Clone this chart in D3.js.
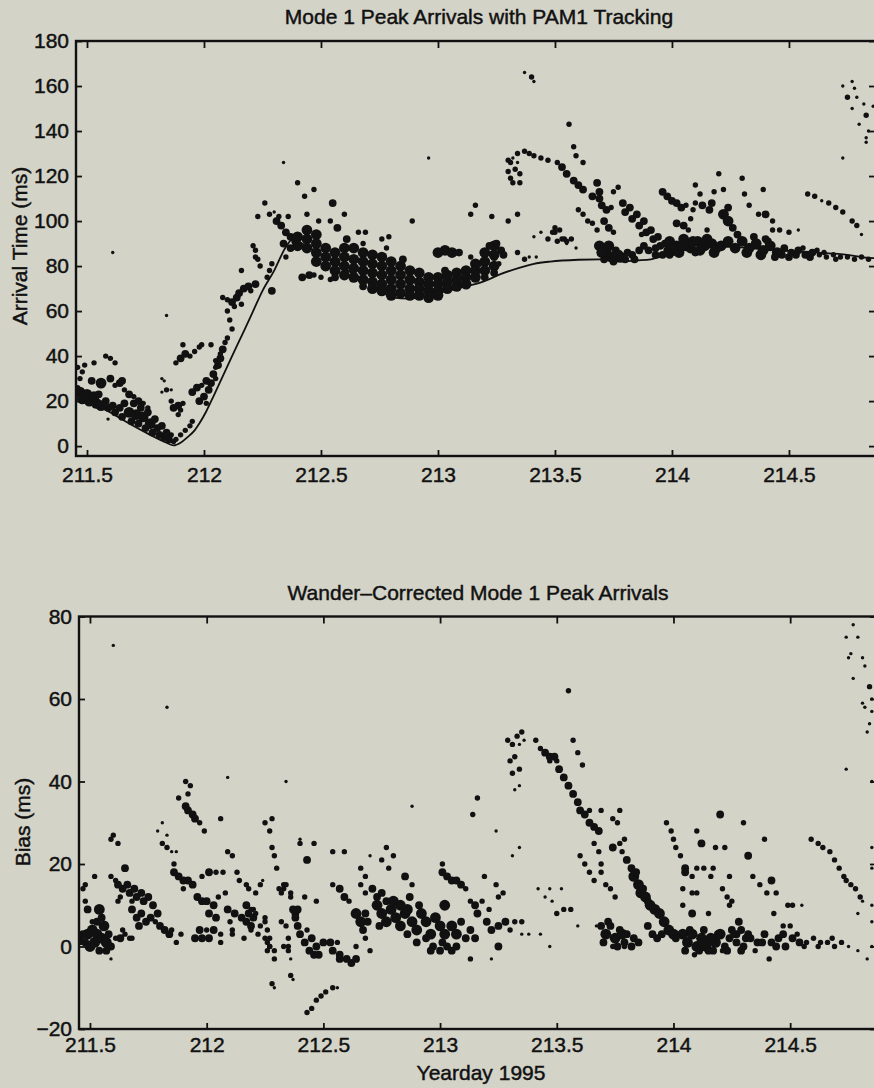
<!DOCTYPE html>
<html>
<head>
<meta charset="utf-8">
<script src="https://cdn.jsdelivr.net/npm/d3@7"></script>
<style>
html,body{margin:0;padding:0;background:#d3d3c8;}
svg{display:block;}
</style>
</head>
<body>
<svg id="chart" width="874" height="1088"></svg>
<script>
// ---------- DATA ----------
const xTickValues = [211.5, 212, 212.5, 213, 213.5, 214, 214.5];
const xTickLabels = ["211.5", "212", "212.5", "213", "213.5", "214", "214.5"];
const topYTicks = [0, 20, 40, 60, 80, 100, 120, 140, 160, 180];
const bottomYTicks = [-20, 0, 20, 40, 60, 80];

const topTitle = "Mode 1 Peak Arrivals with PAM1 Tracking";
const bottomTitle = "Wander\u2013Corrected Mode 1 Peak Arrivals";
const topYLabel = "Arrival Time (ms)";
const bottomYLabel = "Bias (ms)";
const xLabel = "Yearday 1995";

// PAM1 tracking curve [yearday, ms]
const pam1Track = [
[211.453,23],[211.47,22],[211.53,18.5],[211.6,15],[211.68,10],[211.77,5],[211.84,1.5],[211.87,0.3],
[211.9,1.5],[211.93,4],[211.96,7],[211.98,10],[212.01,15.5],[212.04,22],[212.08,31],[212.12,40],
[212.17,51],[212.21,60],[212.25,69],[212.3,78],[212.35,88.5],[212.38,92],[212.42,90],[212.5,85],
[212.6,79],[212.66,75],[212.72,72],[212.81,66],[212.87,65.5],[212.93,66.5],[213.0,68],[213.1,70.5],
[213.19,73],[213.27,76.5],[213.34,79],[213.41,81],[213.48,82],[213.6,82.8],[213.69,83],[213.77,82],
[213.85,82.5],[213.91,83],[213.98,85],[214.05,87],[214.12,88],[214.19,88.5],[214.26,88.5],[214.33,88],
[214.45,87],[214.62,86],[214.75,85],[214.83,83.7],[214.872,83.5]
];

// Mode 1 peak arrivals [yearday, arrival ms, amplitude class 1-4]
const topPeaks = [
[211.47,24,4],[211.48,21,4],[211.5,23,4],[211.51,20,4],[211.53,22,4],[211.54,19,4],[211.55,23,3],[211.56,18,4],
[211.58,20,3],[211.59,17,3],[211.46,26,2],[211.47,30,2],[211.46,35,2],[211.48,33,2],[211.49,36,2],[211.53,37,2],
[211.52,29,3],[211.56,28,4],[211.6,17,2],[211.59,12,1],[211.61,86,1],
[211.61,18,3],[211.62,15,3],[211.64,17,3],[211.65,13,3],[211.66,19,3],[211.68,15,4],[211.69,11,3],[211.7,19,3],
[211.71,14,4],[211.72,10,3],[211.73,17,3],[211.74,13,4],[211.75,8,3],[211.76,15,3],[211.77,10,4],[211.78,6,3],
[211.79,12,3],[211.8,8,3],[211.81,5,3],[211.82,9,3],[211.83,4,3],[211.84,6,3],[211.85,3,3],[211.86,5,2],[211.87,2,2],
[211.6,30,3],[211.62,27,2],[211.64,28,3],[211.65,29,3],[211.66,25,2],[211.68,23,3],[211.7,22,2],[211.72,20,3],
[211.74,19,2],[211.76,17,2],[211.58,40,2],[211.6,39,2],[211.62,37,2],
[211.84,58,1],[211.82,30,1],[211.83,29,1],[211.82,24,1],[211.84,25,2],[211.86,25,1],
[211.86,20,2],[211.87,17,3],[211.89,18,3],[211.9,16,2],[211.91,19,2],[211.89,14,2],
[211.88,3,2],[211.9,5,2],[211.92,7,2],[211.94,9,2],[211.95,11,2],
[211.88,37,2],[211.9,39,3],[211.92,41,3],[211.94,40,2],[211.96,42,2],[211.91,45,2],[211.98,44,2],[211.99,45,2],
[212.03,45,2],[212.05,38,2],
[211.95,24,3],[211.97,26,3],[211.99,27,2],[212.01,29,3],[212.02,25,3],
[211.98,20,3],[212.0,22,3],[212.01,19,2],[212.03,28,3],[212.04,32,3],[212.05,30,2],[212.06,36,3],[212.07,39,3],
[212.08,43,3],[212.09,46,2],[212.1,48,2],[212.05,35,2],[212.07,41,2],
[212.12,64,3],[212.14,66,3],[212.15,68,3],[212.17,70,3],[212.19,71,3],[212.2,69,2],[212.22,72,3],[212.13,62,2],
[212.16,63,2],[212.1,65,2],[212.08,66,2],[212.1,60,2],[212.11,56,2],[212.12,52,2],
[212.22,87,2],[212.23,83,2],[212.16,78,2],[212.27,75,2],[212.28,78,2],[212.29,81,2],[212.29,69,3],
[212.23,102,2],[212.26,108,2],[212.28,103,2],[212.3,104,1],[212.34,126,1],[212.4,117,2],[212.43,111,2],[212.47,114,2],
[212.31,100,3],[212.33,98,3],[212.35,95,3],[212.37,93,3],[212.39,91,3],[212.32,102,2],[212.36,102,2],[212.34,90,3],
[212.37,88,3],[212.35,84,2],[212.21,89,2],[212.22,84,2],[212.24,80,2],
[212.42,75,3],[212.45,76,3],[212.47,76,2],[212.5,75,2],[212.54,74,2],
[212.40,93,4],[212.40,89,4],
[212.44,96,4],[212.44,92,4],[212.44,88,4],
[212.48,94,4],[212.48,90,4],[212.48,86,4],[212.48,82,4],
[212.52,88,4],[212.52,84,4],[212.52,80,4],
[212.56,86,4],[212.56,82,4],[212.56,78,4],[212.56,75,3],
[212.60,88,4],[212.60,84,4],[212.60,80,4],[212.60,76,4],
[212.64,88,4],[212.64,83,4],[212.64,79,4],[212.64,75,4],
[212.68,86,4],[212.68,82,4],[212.68,78,4],[212.68,74,4],[212.68,71,3],
[212.72,85,4],[212.72,81,4],[212.72,77,4],[212.72,73,4],[212.72,70,4],
[212.76,84,4],[212.76,80,4],[212.76,76,4],[212.76,72,4],[212.76,69,4],
[212.80,82,4],[212.80,78,4],[212.80,74,4],[212.80,70,4],[212.80,67,4],
[212.84,80,4],[212.84,76,4],[212.84,72,4],[212.84,68,4],
[212.88,78,4],[212.88,74,4],[212.88,70,4],[212.88,67,4],
[212.92,77,4],[212.92,73,4],[212.92,70,4],[212.92,67,4],
[212.96,75,4],[212.96,72,4],[212.96,69,4],[212.96,66,4],
[213.00,75,4],[213.00,72,4],[213.00,69,4],[213.00,67,4],
[213.04,76,4],[213.04,73,4],[213.04,70,4],
[213.08,77,4],[213.08,74,4],[213.08,71,4],
[213.12,78,4],[213.12,75,4],[213.12,72,4],
[213.16,81,4],[213.16,78,4],[213.16,75,4],
[213.20,86,4],[213.20,82,4],[213.20,78,4],[213.20,75,3],
[213.24,89,4],[213.24,85,4],[213.24,80,4],[213.24,77,3],
[212.44,103,2],[212.49,100,2],[212.55,108,3],[212.6,103,2],[212.54,100,2],[212.57,97,3],[212.61,92,3],
[212.66,95,2],[212.69,95,2],[212.68,90,2],[212.76,92,2],[212.79,93,2],[212.78,88,2],[212.85,83,3],[212.89,100,2],
[212.96,128,1],
[213.0,86,4],[213.03,87,4],[213.06,86,4],[213.09,86,3],[213.03,78,3],
[213.14,84,2],[213.17,81,3],[213.22,89,3],[213.25,90,3],[213.27,87,3],[213.24,84,3],[213.26,81,2],[213.28,85,3],
[213.16,107,2],[213.14,103,2],[213.23,102,2],[213.3,100,2],[213.34,103,2],[213.34,86,2],[213.37,83,2],[213.42,84,1],
[213.37,166,1],[213.4,164,2],[213.41,162,1],[213.56,143,2],
[213.3,127,2],[213.31,126,2],[213.34,130,2],[213.37,131,2],[213.39,130,2],[213.41,129,2],[213.44,128,2],[213.47,127,2],
[213.51,126,2],[213.53,124,3],[213.55,121,3],[213.58,118,3],[213.6,116,3],[213.62,114,3],[213.66,111,3],
[213.32,128,1],[213.34,126,1],[213.3,122,2],[213.33,123,2],[213.35,121,2],[213.31,119,2],[213.32,117,2],[213.35,117,2],
[213.58,133,2],[213.59,129,2],[213.62,126,2],
[213.6,105,2],[213.62,103,2],[213.64,100,2],[213.66,99,2],[213.68,96,2],[213.68,89,2],
[213.41,93,1],[213.44,95,1],[213.47,92,2],[213.5,95,2],[213.52,96,2],[213.51,91,2],[213.54,92,2],[213.57,92,2],
[213.55,90,1],[213.59,88,1],[213.39,84,1],[213.49,95,2],[213.5,97,2],[213.53,92,2],[213.55,91,2],
[213.68,117,3],[213.69,113,3],[213.69,110,3],[213.75,113,2],[213.77,115,2],[213.74,106,2],
[213.7,107,3],[213.72,105,3],[213.71,100,3],[213.73,97,3],[213.75,95,2],
[213.79,108,3],[213.8,104,3],[213.82,106,3],[213.83,101,3],[213.85,103,3],[213.86,98,3],[213.88,100,3],[213.89,95,3],
[213.91,96,3],[213.92,92,3],[213.94,93,3],[213.95,89,3],[213.97,90,3],[213.98,87,3],[213.99,85,3],[213.87,94,2],
[213.93,88,3],[213.96,85,3],
[213.69,89,4],[213.72,86,4],[213.74,84,4],[213.76,87,3],[213.78,84,4],[213.8,83,3],[213.83,85,3],[213.71,83,3],
[213.7,86,4],[213.73,89,4],[213.75,82,3],[213.77,85,4],[213.81,86,3],[213.84,83,3],[213.86,87,3],[213.88,89,3],
[213.9,87,3],[213.93,85,3],
[213.96,113,3],[213.98,111,3],[214.0,109,3],[214.02,108,3],[214.04,106,3],[214.06,107,2],[214.09,105,2],[214.1,108,2],
[214.02,99,3],[214.05,98,3],[214.07,96,2],[214.08,101,2],[214.15,96,2],
[213.99,91,4],[214.02,89,4],[214.05,92,4],[214.08,88,4],[214.11,91,4],[214.14,89,4],[214.17,90,4],[214.19,88,4],
[214.0,86,3],[214.1,86,3],
[214.0,88,4],[214.03,86,4],[214.06,89,4],[214.09,91,4],[214.12,87,4],[214.15,92,4],[214.18,86,4],[214.21,89,4],
[214.24,91,4],[214.27,88,4],[214.32,86,4],[214.38,85,4],[214.41,91,3],[214.47,85,3],[214.53,85,3],[214.59,84,3],
[214.65,86,2],[214.7,83,2],
[214.1,116,2],[214.12,112,2],[214.18,113,2],[214.22,114,2],[214.2,121,2],[214.3,119,2],
[214.13,107,3],[214.17,108,3],[214.16,105,3],[214.24,106,3],
[214.22,103,4],[214.24,100,4],[214.26,97,3],[214.28,94,3],[214.3,91,3],
[214.31,112,2],[214.33,107,2],[214.39,114,2],[214.37,103,2],[214.4,103,3],[214.43,100,2],
[214.43,96,2],[214.46,96,2],[214.5,95,2],[214.54,96,1],
[214.3,91,4],[214.33,88,4],[214.36,90,4],[214.39,87,4],[214.42,89,4],[214.45,86,4],[214.48,88,3],[214.51,86,3],
[214.54,87,3],[214.57,85,3],[214.6,86,3],[214.63,85,2],[214.66,84,2],[214.69,85,2],[214.72,84,2],[214.75,84,2],
[214.78,83,2],[214.81,84,2],[214.84,83,2],[214.35,93,3],[214.4,92,3],[214.44,84,3],[214.5,84,3],[214.56,88,2],[214.62,87,2],
[214.58,112,2],[214.61,111,2],[214.64,109,1],[214.67,108,2],[214.7,106,2],[214.73,104,2],[214.77,100,2],[214.79,98,2],[214.81,94,1],
[214.73,128,1],
[214.73,160,1],[214.77,162,1],[214.78,159,1],[214.75,155,2],[214.79,155,1],[214.82,152,1],[214.77,150,1],
[214.83,147,2],[214.8,143,1],[214.84,140,1],[214.86,151,1],[214.83,137,1],[214.83,135,1]
];

// Wander-corrected bias [yearday, bias ms, amplitude class 1-4]
const biasPeaks = [
[211.6,73,1],[211.83,58,1],[212.09,41,1],[212.34,40,1],
[211.59,26,2],[211.6,27,2],[211.62,25,2],
[211.46,2,3],[211.47,3,3],[211.48,1,3],[211.49,3,4],[211.5,0,4],[211.51,4,4],[211.52,1,4],[211.53,3,4],[211.54,-1,3],
[211.55,2,4],[211.56,5,4],[211.57,1,4],[211.58,3,3],[211.59,0,3],[211.57,-1,3],[211.53,6,3],[211.55,7,3],[211.46,1,2],
[211.54,9,4],[211.49,9,3],[211.51,6,2],[211.48,15,2],[211.52,17,2],[211.47,14,2],[211.48,11,2],[211.59,-3,1],
[211.59,17,2],[211.61,16,2],[211.65,19,3],
[211.62,15,3],[211.64,14,3],[211.66,15,3],[211.67,13,3],[211.69,14,3],[211.7,12,3],[211.72,13,3],[211.73,11,3],
[211.75,12,3],[211.63,12,2],[211.68,11,2],
[211.68,9,3],[211.7,7,3],[211.72,8,3],[211.74,6,3],[211.76,7,3],[211.78,6,2],[211.71,5,3],
[211.77,10,3],[211.79,8,3],[211.8,5,3],[211.82,4,3],[211.84,3,3],[211.85,4,2],
[211.61,2,2],[211.63,2,3],[211.65,3,2],[211.67,2,2],[211.68,2,2],[211.62,11,2],[211.64,4,2],
[211.87,1,2],[211.89,3,2],
[211.79,28,1],[211.81,30,1],[211.83,27,1],[211.81,25,2],[211.83,24,2],[211.85,23,1],[211.86,20,2],[211.87,23,1],
[211.86,18,3],[211.88,17,3],[211.9,16,3],[211.92,16,3],[211.94,15,3],[211.9,14,2],
[211.91,40,2],[211.93,39,2],[211.88,36,2],[211.92,37,2],
[211.91,34,3],[211.92,33,3],[211.94,32,3],[211.95,31,3],[211.97,30,2],[211.99,28,2],
[211.95,2,3],[211.98,2,3],[212.01,2,3],[211.97,4,3],[212.0,4,2],[212.03,4,3],
[211.96,12,3],[211.98,11,3],[212.0,11,3],[212.03,10,3],[211.98,17,2],[212.01,18,3],[212.06,31,2],
[212.01,8,3],[212.04,7,3],[212.06,3,2],[212.06,1,2],[212.05,12,2],
[212.09,23,2],[212.11,22,2],[212.07,18,2],[212.04,18,2],[212.08,13,2],[212.09,9,3],[212.12,8,3],
[212.1,6,2],[212.11,3,2],[212.11,4,2],[212.13,18,2],[212.14,16,2],[212.17,15,2],[212.18,14,2],[212.16,2,2],[212.17,10,3],
[212.15,7,3],[212.17,6,3],[212.19,5,3],[212.2,7,3],[212.18,8,3],[212.2,9,2],[212.21,8,2],[212.22,3,2],
[212.23,15,2],[212.24,16,1],[212.23,5,2],[212.25,2,2],[212.26,1,2],[212.27,0,2],[212.29,-1,2],[212.25,7,2],
[212.25,30,2],[212.28,31,2],[212.27,28,2],[212.28,24,2],[212.29,22,2],[212.3,19,2],[212.28,-9,2],
[212.32,6,2],[212.34,5,2],[212.33,15,2],[212.35,2,2],[212.35,0,2],[212.36,-7,2],[212.33,14,2],[212.36,13,2],
[212.38,8,3],[212.39,9,3],[212.4,26,1],
[212.88,34,1],[213.16,36,2],[213.14,32,2],[213.24,28,1],[213.55,62,2],
[212.4,25,2],[212.46,25,2],[212.43,21,3],[212.54,23,2],[212.59,23,2],[212.66,19,2],[212.7,22,1],
[212.75,21,2],[212.77,24,2],[212.8,22,2],[212.78,19,2],[212.68,17,2],[212.85,17,3],[212.88,15,2],
[213.01,20,2],[213.01,18,3],[213.03,17,3],[213.05,16,3],[213.07,16,3],[213.09,15,3],[213.11,14,2],
[213.19,17,2],[213.24,15,2],[213.27,13,2],
[212.21,13,2],[212.31,14,2],[212.34,15,2],[212.32,13,2],[212.36,12,2],[212.42,12,2],[212.47,11,2],
[212.37,9,3],[212.38,7,3],[212.39,5,3],[212.19,9,2],[212.19,4,2],[212.25,6,2],[212.26,4,2],[212.27,2,2],
[212.27,0,2],[212.26,-1,2],[212.29,-3,2],[212.33,0,2],[212.35,-1,2],[212.36,-3,1],[212.37,-8,1],[212.29,-10,1],
[212.4,3,3],[212.42,1,3],[212.44,-1,3],[212.45,2,3],[212.43,4,2],[212.46,-2,3],[212.48,-2,3],
[212.47,0,3],[212.5,1,3],[212.53,1,3],[212.56,1,2],[212.54,-1,3],[212.57,-2,3],
[212.57,-3,3],[212.6,-3,3],[212.62,-4,3],[212.64,-3,3],[212.64,0,2],[212.68,2,2],[212.7,-1,2],
[212.64,8,4],[212.66,6,4],[212.68,8,3],[212.67,4,3],[212.69,6,3],
[212.57,14,3],[212.59,12,3],[212.61,11,2],[212.54,15,2],[212.66,15,2],[212.68,13,2],
[212.43,-16,2],[212.45,-15,2],[212.47,-13,2],[212.49,-12,2],[212.51,-11,2],[212.54,-10,2],[212.56,-10,1],
[212.71,14,3],[212.73,12,3],[212.75,13,3],[212.77,11,3],
[212.73,10,4],[212.75,8,4],[212.77,6,4],[212.79,9,4],[212.81,7,4],[212.83,5,4],[212.85,8,4],[212.74,5,3],
[212.8,11,4],[212.83,10,4],[212.86,9,4],[212.88,6,4],[212.9,4,4],[212.92,8,4],[212.94,6,4],[212.96,3,4],
[212.98,7,4],[213.0,5,4],[213.02,3,4],[212.87,12,3],[212.91,10,3],
[212.86,3,3],[212.9,1,3],[212.94,2,3],[212.97,0,3],[213.01,1,3],[213.03,0,3],
[212.96,-1,3],[213.0,-1,3],[213.05,-1,3],[213.07,0,3],[213.02,10,4],
[213.05,5,4],[213.07,3,4],[213.09,6,3],[213.11,2,3],[213.13,4,3],[213.15,2,3],[213.16,8,3],
[213.13,11,2],[213.15,10,3],[213.18,11,2],
[213.2,6,3],[213.22,4,3],[213.25,5,3],[213.28,6,3],[213.3,4,2],[213.21,9,2],[213.25,12,2],[213.25,0,3],
[213.13,-3,2],[213.22,-3,1],[213.32,6,2],[213.35,6,2],[213.35,3,1],[213.38,3,1],[213.43,3,1],[213.47,0,1],
[213.42,14,1],[213.47,14,1],[213.52,14,1],[213.45,12,1],[213.48,11,1],
[213.5,8,2],[213.53,9,2],[213.56,9,2],[213.59,5,1],[213.67,5,1],[213.31,22,1],[213.34,24,1],
[213.6,22,2],[213.62,20,2],[213.64,18,2],
[213.29,50,2],[213.31,49,2],[213.33,51,2],[213.35,52,2],[213.36,50,1],[213.34,49,1],
[213.3,45,2],[213.32,46,2],[213.31,42,2],[213.34,43,2],[213.32,38,1],[213.34,39,1],
[213.41,50,2],[213.43,48,2],[213.45,47,3],[213.47,46,3],[213.49,46,3],
[213.51,43,3],[213.53,41,3],[213.55,39,3],[213.57,37,3],[213.59,35,3],[213.6,33,3],
[213.62,32,3],[213.64,30,3],[213.66,29,3],[213.68,28,3],
[213.57,50,2],[213.59,47,2],[213.61,44,2],[213.47,45,2],[213.5,45,2],
[213.64,33,2],[213.69,33,2],[213.77,33,2],[213.74,31,2],[213.76,30,2],[213.66,25,2],[213.68,23,2],
[213.69,20,2],[213.69,18,2],[213.74,24,3],[213.66,16,2],[213.71,15,2],[213.73,14,2],[213.75,12,2],
[213.77,25,2],[213.79,26,2],[213.78,23,2],
[213.8,21,3],[213.82,19,3],[213.83,17,4],[213.85,15,4],[213.86,13,4],[213.88,12,4],[213.9,10,4],[213.92,9,4],
[213.94,8,4],[213.84,18,3],[213.87,14,3],[213.89,11,3],[213.96,6,4],[213.98,4,4],[214.0,3,4],[214.01,2,3],
[213.69,5,3],[213.71,3,4],[213.73,5,3],[213.75,2,4],[213.77,4,3],[213.79,1,3],[213.8,3,3],[213.83,2,3],[213.85,1,3],
[213.7,1,3],[213.72,6,3],[213.76,0,3],[213.78,3,4],[213.82,0,3],
[213.74,0,2],[213.79,0,2],[213.89,5,3],[213.91,3,3],[213.93,2,3],[213.95,3,3],
[213.97,30,2],[213.99,28,2],[214.0,26,2],[214.01,24,2],[214.03,22,2],[214.05,19,3],[214.05,18,3],
[214.1,28,2],[214.12,25,3],[214.18,24,2],[214.22,24,2],[214.2,32,3],[214.3,30,2],[214.32,22,3],[214.39,26,2],
[214.08,17,2],[214.1,19,2],[214.13,19,2],[214.17,19,2],[214.16,17,2],[214.24,17,2],[214.34,17,2],
[214.1,13,2],[214.04,14,2],[214.08,13,2],[214.04,10,2],[214.08,8,3],[214.15,8,2],
[214.21,14,2],[214.23,12,2],[214.25,11,2],[214.24,10,2],[214.37,15,2],[214.4,13,2],[214.42,16,3],[214.44,13,2],
[214.49,10,2],[214.51,10,2],[214.55,10,1],[214.43,8,2],[214.28,6,3],
[214.25,4,3],[214.27,3,3],[214.29,4,3],[214.31,2,3],[214.47,5,2],[214.5,5,2],
[214.04,3,4],[214.06,1,4],[214.08,3,4],[214.1,0,4],[214.12,2,4],[214.14,0,4],[214.16,2,4],[214.18,1,4],[214.2,3,4],
[214.22,0,3],[214.24,2,3],[214.27,1,3],[214.3,0,3],[214.33,2,3],[214.36,1,3],[214.39,3,3],[214.42,1,3],[214.45,2,3],
[214.48,0,3],[214.51,2,3],[214.54,1,3],[214.57,1,2],[214.6,2,2],[214.63,1,2],[214.66,1,2],[214.69,0,2],[214.72,1,2],
[214.75,0,1],[214.09,-2,2],[214.15,-1,3],[214.21,-1,2],[214.13,4,3],[214.41,-3,2],
[214.05,-1,3],[214.07,4,3],[214.11,-1,3],[214.13,1,4],[214.17,-1,3],[214.19,3,3],[214.23,-1,3],[214.26,3,3],
[214.29,-1,3],[214.32,3,3],[214.35,-1,2],[214.38,1,3],[214.44,0,3],[214.47,3,3],[214.53,3,2],[214.56,0,2],
[214.62,0,2],[214.68,2,2],
[214.59,26,2],[214.62,25,2],[214.64,24,2],[214.67,23,2],[214.69,21,2],[214.71,19,2],[214.73,17,2],[214.74,16,2],
[214.76,15,2],[214.78,14,2],[214.8,12,2],[214.81,11,1],
[214.79,8,1],[214.79,-1,1],[214.83,-3,1],[214.85,0,1],[214.85,6,1],[214.85,10,1],[214.85,19,1],[214.85,24,1],[214.85,40,1],
[214.77,78,1],[214.74,75,1],[214.79,75,1],[214.76,71,1],[214.75,70,1],[214.81,70,1],[214.82,68,1],[214.77,65,1],
[214.84,63,2],[214.85,60,1],[214.85,57,1],[214.81,59,1],[214.82,58,1],[214.84,54,1],[214.83,52,1],[214.74,43,1]
];

// ---------- DRAWING ----------
const W = 874, H = 1088;
const bg = "#d3d3c8";
const ink = "#111";
const font = "'Liberation Sans', Arial, Helvetica, sans-serif";
const fontSize = 21;

const svg = d3.select("#chart");
svg.append("rect").attr("width", W).attr("height", H).attr("fill", bg);

const rScale = d3.scaleOrdinal().domain([1, 2, 3, 4]).range([1.7, 2.7, 3.9, 5.4]);
const xDomain = [211.453, 214.872];

function styleText(sel) {
  sel.attr("fill", ink).attr("stroke", ink).attr("stroke-width", 0.45)
    .style("font-family", font).style("font-size", fontSize + "px");
}

function drawPanel(cfg) {
  const x = d3.scaleLinear().domain(xDomain).range([cfg.left, cfg.right]);
  const y = d3.scaleLinear().domain(cfg.yDomain).range([cfg.bottom, cfg.top]);
  const g = svg.append("g");

  const clipId = "clip-" + cfg.id;
  svg.append("clipPath").attr("id", clipId)
    .append("rect").attr("x", cfg.left).attr("y", cfg.top)
    .attr("width", cfg.right - cfg.left).attr("height", cfg.bottom - cfg.top);

  const plot = g.append("g").attr("clip-path", `url(#${clipId})`);

  if (cfg.line) {
    plot.append("path")
      .datum(cfg.line)
      .attr("fill", "none")
      .attr("stroke", ink)
      .attr("stroke-width", 1.8)
      .attr("d", d3.line().x(d => x(d[0])).y(d => y(d[1])).curve(d3.curveMonotoneX));
  }

  plot.selectAll("circle")
    .data(cfg.points)
    .join("circle")
    .attr("cx", d => x(d[0]))
    .attr("cy", d => y(d[1]))
    .attr("r", d => rScale(d[2]))
    .attr("fill", ink);

  const fmt = d => xTickLabels[xTickValues.indexOf(d)];
  const xb = g.append("g").attr("transform", `translate(0,${cfg.bottom})`)
    .call(d3.axisBottom(x).tickValues(xTickValues).tickFormat(fmt)
      .tickSizeInner(-6).tickSizeOuter(0).tickPadding(cfg.xPad));
  const xt = g.append("g").attr("transform", `translate(0,${cfg.top})`)
    .call(d3.axisTop(x).tickValues(xTickValues).tickFormat("")
      .tickSizeInner(-7).tickSizeOuter(0));
  const yl = g.append("g").attr("transform", `translate(${cfg.left},0)`)
    .call(d3.axisLeft(y).tickValues(cfg.yTicks)
      .tickSizeInner(-6).tickSizeOuter(0).tickPadding(cfg.yPad));
  const yr = g.append("g").attr("transform", `translate(${cfg.right},0)`)
    .call(d3.axisRight(y).tickValues(cfg.yTicks).tickFormat("")
      .tickSizeInner(-7).tickSizeOuter(0));

  [xb, xt, yl, yr].forEach(a => {
    a.select(".domain").remove();
    a.selectAll(".tick line").attr("stroke", ink).attr("stroke-width", 1.8);
    styleText(a.selectAll("text"));
  });

  g.append("rect")
    .attr("x", cfg.left).attr("y", cfg.top)
    .attr("width", cfg.right - cfg.left).attr("height", cfg.bottom - cfg.top)
    .attr("fill", "none").attr("stroke", ink).attr("stroke-width", 2.4);

  styleText(g.append("text")
    .attr("x", cfg.titleX).attr("y", cfg.titleY)
    .attr("text-anchor", "middle")
    .text(cfg.title));

  styleText(g.append("text")
    .attr("transform", `translate(${cfg.yLabelX},${cfg.yLabelY}) rotate(-90)`)
    .attr("text-anchor", "middle")
    .text(cfg.yLabel));
}

drawPanel({
  id: "top", left: 76, right: 876, top: 41, bottom: 456,
  yDomain: [-4.4, 180], yTicks: topYTicks, xPad: 11, yPad: 7,
  points: topPeaks, line: pam1Track,
  title: topTitle, titleX: 479, titleY: 24,
  yLabel: topYLabel, yLabelX: 27, yLabelY: 246
});

drawPanel({
  id: "bottom", left: 79, right: 877, top: 616.5, bottom: 1029,
  yDomain: [-20, 80], yTicks: bottomYTicks, xPad: 8, yPad: 7,
  points: biasPeaks, line: null,
  title: bottomTitle, titleX: 478, titleY: 600,
  yLabel: bottomYLabel, yLabelX: 30, yLabelY: 822
});

styleText(svg.append("text")
  .attr("x", 481).attr("y", 1080)
  .attr("text-anchor", "middle")
  .text(xLabel));
</script>
</body>
</html>
